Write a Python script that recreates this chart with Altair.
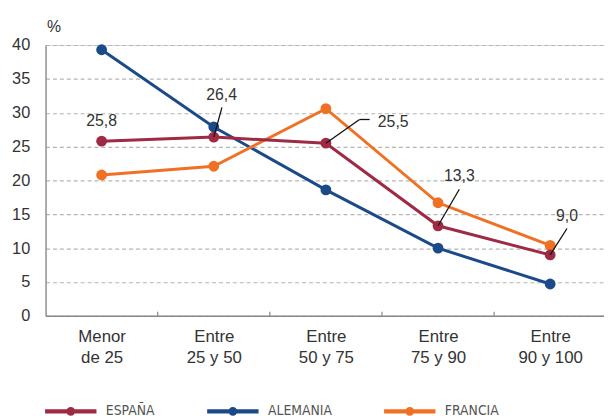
import altair as alt
import pandas as pd

categories = ["Menor de 25", "Entre 25 y 50", "Entre 50 y 75", "Entre 75 y 90", "Entre 90 y 100"]
series = ["ESPAÑA", "ALEMANIA", "FRANCIA"]
espana = [25.8, 26.4, 25.5, 13.3, 9.0]
alemania = [39.3, 27.9, 18.6, 10.0, 4.7]
francia = [20.8, 22.1, 30.6, 16.7, 10.4]
colors = ["#9E2A44", "#1B4A8B", "#F07124"]
y_ticks = [0, 5, 10, 15, 20, 25, 30, 35, 40]

# value labels for ESPAÑA (position of text, in data units)
ann_x = [0, 1.07, 2.6, 3.19, 4.15]
ann_y = [28.7, 32.6, 28.6, 20.7, 14.7]
# leader lines
lead_x = [1.073, 2.0, 2.30, 3.19, 4.15]
lead_y = [30.8, 25.5, 29.0, 18.7, 12.9]
lead_x2 = [1.0, 2.30, 2.39, 3.0, 4.0]
lead_y2 = [26.4, 29.0, 29.0, 13.3, 9.0]
sep_ticks = [0.5, 1.5, 2.5, 3.5]

values = {"ESPAÑA": espana, "ALEMANIA": alemania, "FRANCIA": francia}
rows = []
for s in series:
    for i, v in enumerate(values[s]):
        rows.append({"series": s, "idx": i, "value": v})
df = pd.DataFrame(rows)

ann_df = pd.DataFrame({"idx": ann_x, "value": ann_y, "v": espana})
lead_df = pd.DataFrame({"idx": lead_x, "value": lead_y, "idx2": lead_x2, "value2": lead_y2})
tick_df = pd.DataFrame({"idx": sep_ticks, "value": [0] * len(sep_ticks), "value2": [0.6] * len(sep_ticks)})

FONT = "Liberation Sans"
TXT = "#333333"

label_arr = "[" + ",".join(
    "['%s','%s']" % (c.split(" ", 1)[0], c.split(" ", 1)[1]) for c in categories
) + "]"

xscale = alt.Scale(domain=[-0.5, 4.48], nice=False, zero=False)
yscale = alt.Scale(domain=[0, 40], nice=False)

x_axis = alt.Axis(
    values=list(range(len(categories))), labelExpr=label_arr + "[round(datum.value)]",
    ticks=False, grid=False, title=None, domainColor="#888888", domainWidth=1.5,
    labelFont=FONT, labelFontSize=17, labelColor=TXT, labelBaseline="top",
    labelPadding=13, labelLineHeight=21,
)
y_axis = alt.Axis(
    values=y_ticks, ticks=False, grid=True, gridDash=[4, 3], gridColor="#b5b5b5",
    gridWidth=1.2, domainColor="#888888", domainWidth=1.3, labelOverlap=False,
    labelFont=FONT, labelFontSize=16.5, labelColor=TXT, labelPadding=16,
    title="%", titleAngle=0, titleX=1, titleY=-19, titleAlign="left",
    titleBaseline="middle", titleFont=FONT, titleFontSize=16,
    titleFontWeight="normal", titleColor=TXT,
)

X = alt.X("idx:Q", scale=xscale, axis=x_axis)
Y = alt.Y("value:Q", scale=yscale, axis=y_axis)

color = alt.Color(
    "series:N", scale=alt.Scale(domain=series, range=colors),
    legend=alt.Legend(
        title=None, orient="none", legendX=-3, legendY=342, direction="horizontal",
        columns=3, symbolType="M-1,0L1,0M0.085,0A0.085,0.085,0,1,1,-0.085,0A0.085,0.085,0,1,1,0.085,0Z",
        symbolSize=2704, symbolStrokeWidth=4.5, labelOffset=7, columnPadding=43,
        labelFont="Liberation Sans Narrow, DejaVu Sans Condensed", labelFontSize=14,
        labelColor="#555555", padding=0,
    ),
)

base = alt.Chart(df)
layers = []
for k, s in enumerate(["ALEMANIA", "FRANCIA", "ESPAÑA"]):
    c = colors[series.index(s)]
    sub = base.transform_filter(alt.datum.series == s)
    layers.append(
        sub.mark_line(strokeWidth=3).encode(x=X, y=Y, color=color)
    )
    layers.append(
        sub.mark_point(filled=True, size=120, opacity=1).encode(
            x=X, y=Y, color=alt.value(c)
        )
    )

ticks = alt.Chart(tick_df).mark_rule(color="#888888", strokeWidth=1.2).encode(
    x=X, y=Y, y2="value2:Q"
)
leaders = alt.Chart(lead_df).mark_rule(color="#111111", strokeWidth=1.3).encode(
    x=X, y=Y, x2="idx2:Q", y2="value2:Q"
)
labels = alt.Chart(ann_df).transform_calculate(
    lab="replace(format(datum.v, '.1f'), '.', ',')"
).mark_text(font=FONT, fontSize=16, color=TXT, baseline="middle", align="center").encode(
    x=X, y=Y, text="lab:N"
)

chart = alt.layer(ticks, *layers, leaders, labels).properties(
    width=565, height=274,
    autosize=alt.AutoSizeParams(type="none"),
    padding={"left": 38, "top": 35, "right": 0, "bottom": 110},
).configure_view(stroke=None).configure(background="white")

chart.save("out.html", embed_options={"renderer": "svg", "actions": False})
